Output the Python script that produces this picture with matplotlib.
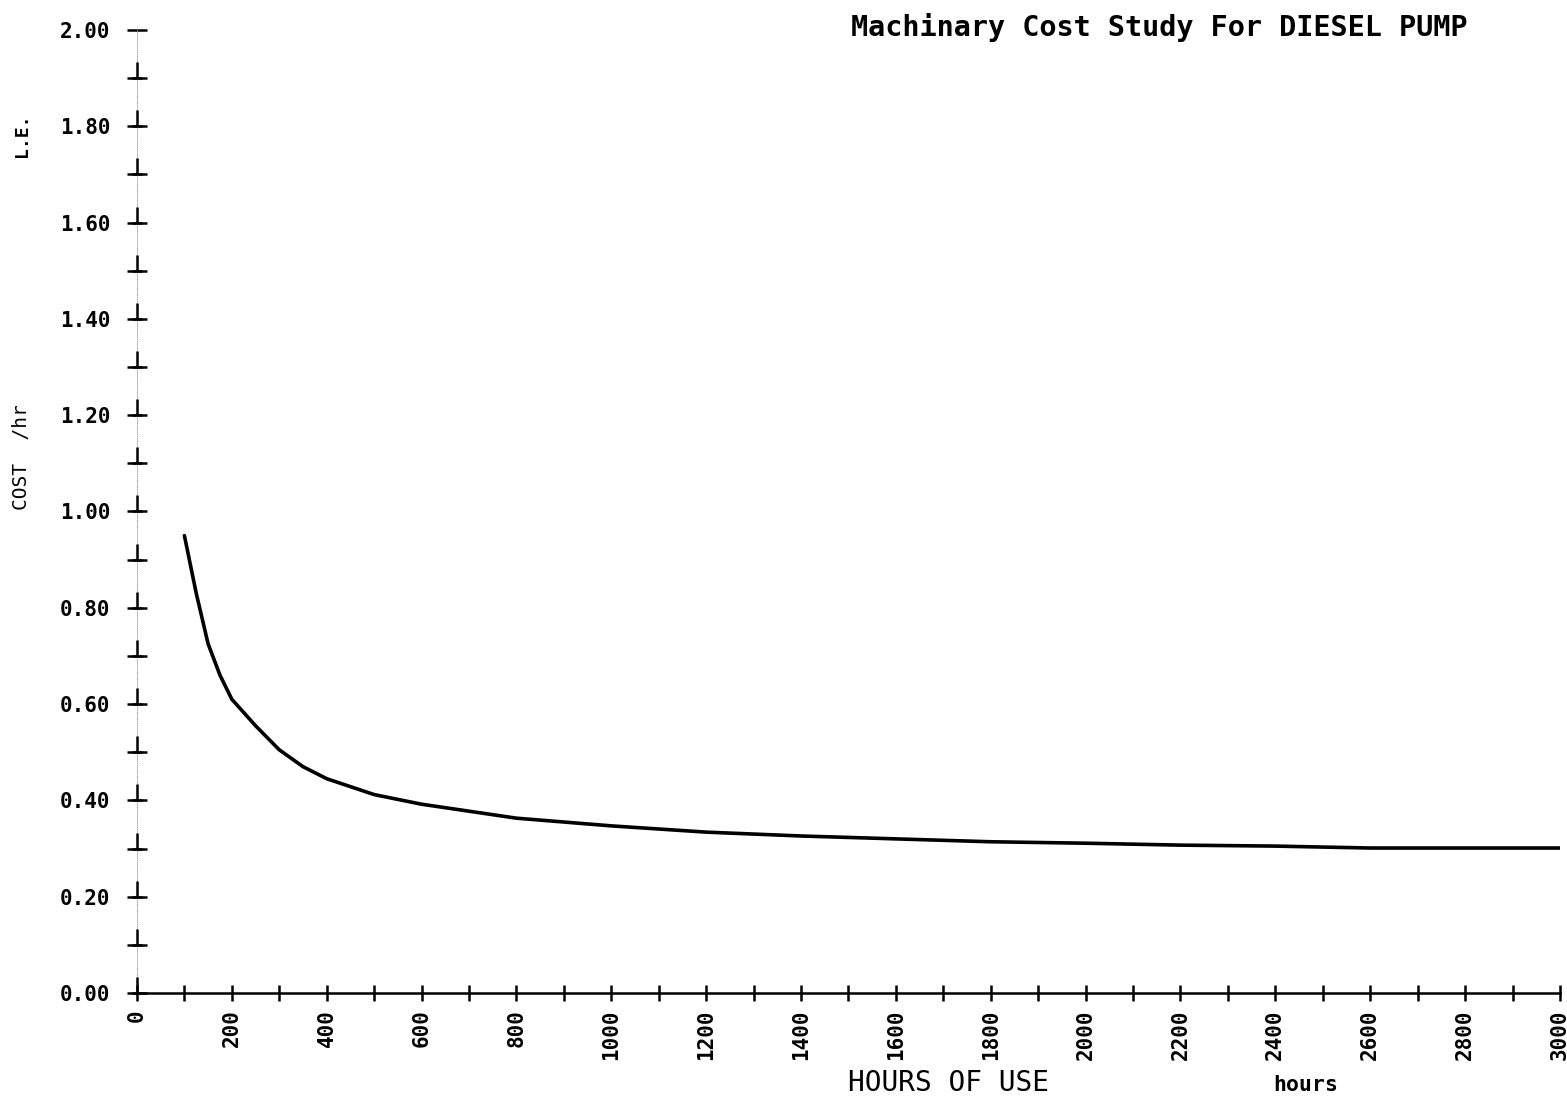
import numpy as np
import matplotlib.pyplot as plt
from matplotlib.path import Path

# datos
horas = [100, 125, 150, 175, 200, 250, 300, 350, 400, 500, 600, 800, 1000, 1200, 1400,
         1600, 1800, 2000, 2200, 2400, 2600, 2800, 3000]
costo = [0.95, 0.83, 0.725, 0.66, 0.61, 0.555, 0.505, 0.47, 0.445, 0.412, 0.392, 0.363,
         0.347, 0.334, 0.326, 0.32, 0.314, 0.311, 0.307, 0.305, 0.301, 0.301, 0.301]

y_ticks = [0.0, 0.1, 0.2, 0.3, 0.4, 0.5, 0.6, 0.7, 0.8, 0.9, 1.0, 1.1, 1.2, 1.3, 1.4, 1.5, 1.6, 1.7, 1.8, 1.9, 2.0]
y_labels = ['0.00', '', '0.20', '', '0.40', '', '0.60', '', '0.80', '', '1.00', '',
            '1.20', '', '1.40', '', '1.60', '', '1.80', '', '2.00']
x_ticks = list(range(0, 3001, 100))
x_labels = [str(v) if v % 200 == 0 else '' for v in x_ticks]

titulo = 'Machinary Cost Study For DIESEL PUMP'
fuente = 'DejaVu Sans Mono'

fig = plt.figure(figsize=(15.67, 10.99), dpi=100)
ax = fig.add_axes([0.0874, 0.0965, 0.9081, 0.8762])

ax.plot(horas, costo, color='black', lw=2.6, solid_capstyle='round')

ax.set_xlim(0, 3000)
ax.set_ylim(0, 2.0)

ax.set_xticks(x_ticks)
ax.set_xticklabels(x_labels, rotation=90, fontsize=15, fontweight='bold', family=fuente)
ax.set_yticks(y_ticks)
ax.set_yticklabels(y_labels, fontsize=15, fontweight='bold', family=fuente)
ax.tick_params(axis='x', direction='inout', length=12, width=1.8, pad=6)
ax.tick_params(axis='y', direction='inout', length=14, width=1.8, pad=12)

for s in ['top', 'right']:
    ax.spines[s].set_visible(False)
ax.spines['bottom'].set_linewidth(1.8)
ax.spines['left'].set_linestyle(':')
ax.spines['left'].set_linewidth(0.6)
ax.spines['left'].set_color('0.6')

# marcas en forma de T invertida sobre el eje y
t_inv = Path([(-0.35, 0), (0.35, 0), (0, 0), (0, 1.0)],
             [Path.MOVETO, Path.LINETO, Path.MOVETO, Path.LINETO])
ax.scatter([0] * (len(y_ticks) - 1), y_ticks[:-1], marker=t_inv, s=500,
           color='black', linewidths=1.8, clip_on=False, zorder=5)

fig.text(0.74, 0.975, titulo, ha='center', va='center', fontsize=20.5,
         fontweight='bold', family=fuente)
fig.text(0.605, 0.015, 'HOURS OF USE', ha='center', va='center', fontsize=20,
         family=fuente)
fig.text(0.833, 0.013, 'hours', ha='center', va='center', fontsize=15.5,
         fontweight='bold', family=fuente)
fig.text(0.014, 0.584, 'COST  /hr', rotation=90, ha='center', va='center',
         fontsize=14, family=fuente)
fig.text(0.014, 0.877, 'L.E.', rotation=90, ha='center', va='center',
         fontsize=13, fontweight='bold', family=fuente)

plt.savefig('out.png', dpi=100)
